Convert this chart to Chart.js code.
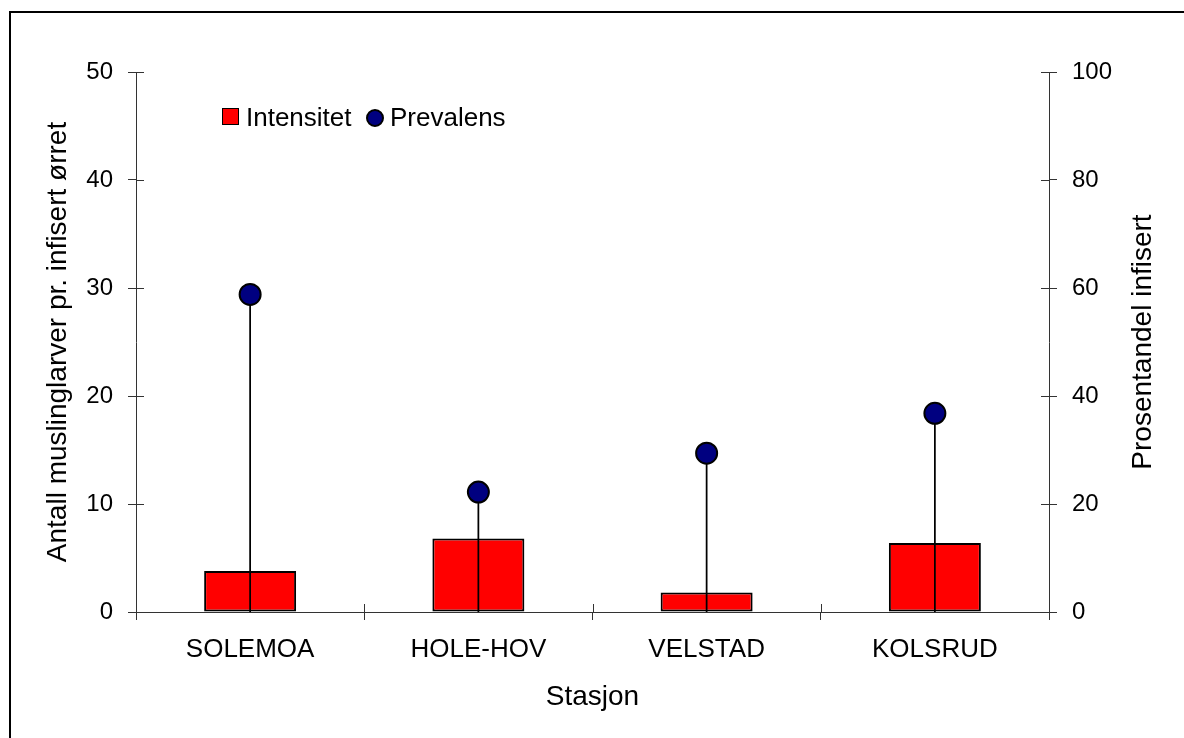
<!DOCTYPE html>
<html>
<head>
<meta charset="utf-8">
<script src="https://cdn.jsdelivr.net/npm/chart.js@4.4.1/dist/chart.umd.min.js"></script>
<style>
  html, body { margin:0; padding:0; background:#fff; overflow:hidden; width:1184px; height:738px; }
  #wrap { position:relative; width:1184px; height:738px; }
  #frame { position:absolute; left:9px; top:11px; width:1300px; height:900px; border:2px solid #000; box-sizing:border-box; pointer-events:none; }
  canvas { position:absolute; left:0; top:0; }
  .lg { position:absolute; font-family:"Liberation Sans", Arial, sans-serif; font-size:26px; line-height:26px; color:#000; white-space:nowrap; }
  .sq { position:absolute; box-sizing:border-box; border:1.5px solid #000; }
</style>
</head>
<body>
<div id="wrap">
  <canvas id="c" width="1184" height="738"></canvas>
  <div id="frame"></div>
  <div id="legend"></div>
</div>
<script>
const categories = ['SOLEMOA', 'HOLE-HOV', 'VELSTAD', 'KOLSRUD'];
const intensitet = [3.8, 6.8, 1.8, 6.4];
const prevalens = [58.8, 22.2, 29.4, 36.8];
const leftTicks = [0, 10, 20, 30, 40, 50];
const rightTicks = [0, 20, 40, 60, 80, 100];
const seriesNames = ['Intensitet', 'Prevalens'];
const leftTitle = 'Antall muslinglarver pr. infisert ørret';
const rightTitle = 'Prosentandel infisert';
const xTitle = 'Stasjon';

const FONT = '"Liberation Sans", Arial, sans-serif';
const AXIS = '#333';

// HTML legend
(function(){
  const lg = document.getElementById('legend');
  const sq = document.createElement('div');
  sq.className = 'sq';
  Object.assign(sq.style, {left:'222px', top:'108px', width:'17px', height:'17px', background:'#ff0000'});
  lg.appendChild(sq);
  const t1 = document.createElement('div');
  t1.className = 'lg'; t1.textContent = seriesNames[0];
  Object.assign(t1.style, {left:'246px', top:'104px'});
  lg.appendChild(t1);
  const ci = document.createElement('div');
  ci.className = 'sq';
  Object.assign(ci.style, {left:'366px', top:'109px', width:'18px', height:'18px', background:'#000080', borderRadius:'50%', borderWidth:'2px'});
  lg.appendChild(ci);
  const t2 = document.createElement('div');
  t2.className = 'lg'; t2.textContent = seriesNames[1];
  Object.assign(t2.style, {left:'390px', top:'104px'});
  lg.appendChild(t2);
})();

const innerTicks = {
  id: 'innerTicks',
  afterDraw(chart) {
    const ctx = chart.ctx;
    const {x, y, y1} = chart.scales;
    const area = chart.chartArea;
    ctx.save();
    ctx.strokeStyle = AXIS;
    ctx.lineWidth = 1;
    ctx.beginPath();
    y.ticks.forEach(t => {
      const py = Math.round(y.getPixelForValue(t.value)) + 0.5;
      ctx.moveTo(area.left, py); ctx.lineTo(area.left + 8, py);
    });
    y1.ticks.forEach(t => {
      const py = Math.round(y1.getPixelForValue(t.value)) + 0.5;
      ctx.moveTo(area.right - 8, py); ctx.lineTo(area.right, py);
    });
    for (let i = 0; i <= categories.length; i++) {
      const px = Math.round(x.getPixelForValue(i - 0.5)) + 0.5;
      ctx.moveTo(px, area.bottom); ctx.lineTo(px, area.bottom - 8);
    }
    ctx.stroke();
    // right axis title, reading bottom-to-top like the left one
    ctx.fillStyle = '#000';
    ctx.font = '28px ' + FONT;
    ctx.textAlign = 'center';
    ctx.textBaseline = 'middle';
    ctx.translate(y1.right - 41, (area.top + area.bottom) / 2);
    ctx.rotate(-Math.PI / 2);
    ctx.fillText(rightTitle, 0, 0);
    ctx.restore();
  }
};

const dropLines = {
  id: 'dropLines',
  beforeDatasetDraw(chart, args) {
    if (args.index !== 1) return;
    const ctx = chart.ctx;
    const meta = chart.getDatasetMeta(1);
    const zero = chart.scales.y1.getPixelForValue(0);
    ctx.save();
    ctx.strokeStyle = '#000';
    ctx.lineWidth = 1.75;
    ctx.beginPath();
    meta.data.forEach(pt => {
      ctx.moveTo(pt.x, pt.y); ctx.lineTo(pt.x, zero);
    });
    ctx.stroke();
    ctx.restore();
  }
};

new Chart(document.getElementById('c'), {
  data: {
    labels: categories,
    datasets: [
      {
        type: 'bar', label: seriesNames[0], data: intensitet, yAxisID: 'y',
        backgroundColor: '#ff0000', borderColor: '#000', borderWidth: 2, borderSkipped: false,
        categoryPercentage: 1.0, barPercentage: 0.403, order: 2
      },
      {
        type: 'line', label: seriesNames[1], data: prevalens, yAxisID: 'y1',
        showLine: false, pointRadius: 10.5, pointBackgroundColor: '#000080',
        pointBorderColor: '#000', pointBorderWidth: 2, order: 1
      }
    ]
  },
  options: {
    responsive: false,
    animation: false,
    devicePixelRatio: 1,
    layout: { padding: { top: 72, left: 0, right: 0, bottom: 0 } },
    plugins: { legend: { display: false }, tooltip: { enabled: false } },
    scales: {
      x: {
        type: 'category', offset: true,
        grid: { display: true, offset: true, drawOnChartArea: false, drawTicks: true, tickLength: 8, color: AXIS },
        border: { display: true, color: AXIS, width: 1 },
        ticks: { autoSkip: false, maxRotation: 0, padding: 14, color: '#000', font: { family: FONT, size: 26 } },
        title: { display: true, text: xTitle, color: '#000', font: { family: FONT, size: 28 }, padding: { top: 0, bottom: 24 } },
        afterFit(s) { s.height = 126; }
      },
      y: {
        position: 'left', min: 0, max: 50,
        afterBuildTicks(s) { s.ticks = leftTicks.map(v => ({ value: v })); },
        grid: { display: true, drawOnChartArea: false, drawTicks: true, tickLength: 8, color: AXIS },
        border: { display: true, color: AXIS, width: 1 },
        ticks: { padding: 15, color: '#000', font: { family: FONT, size: 24 } },
        title: { display: true, text: leftTitle, color: '#000', font: { family: FONT, size: 28 }, padding: { top: 41, bottom: 0 } },
        afterFit(s) { s.width = 136; }
      },
      y1: {
        position: 'right', min: 0, max: 100,
        afterBuildTicks(s) { s.ticks = rightTicks.map(v => ({ value: v })); },
        grid: { display: true, drawOnChartArea: false, drawTicks: true, tickLength: 8, color: AXIS },
        border: { display: true, color: AXIS, width: 1 },
        ticks: { padding: 15, color: '#000', font: { family: FONT, size: 24 } },
        title: { display: false, text: rightTitle },
        afterFit(s) { s.width = 135; }
      }
    }
  },
  plugins: [innerTicks, dropLines]
});
</script>
</body>
</html>
